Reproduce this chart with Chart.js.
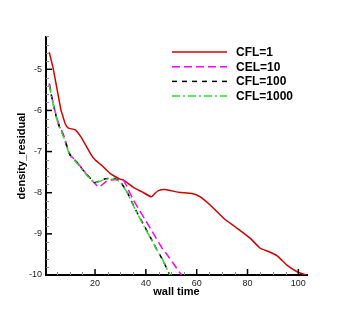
<!DOCTYPE html>
<html lang="en">
<head>
  <title>density residual</title>
  <meta charset="utf-8">
  <script src="https://cdn.jsdelivr.net/npm/chart.js@4.4.1/dist/chart.umd.min.js"></script>
</head>
<style>
  body {
    margin: 0;
    background-color: #ffffff;
  }
  #box {
    width: 349px;
    height: 310px;
  }
</style>
<body>

  <div id="box">
    <canvas id="myChart" width="349" height="310"></canvas>
  </div>

  <script>
    const seriesNames = ["CFL=1", "CEL=10", "CFL=100", "CFL=1000"];
    const seriesColors = ["#d40000", "#ff00ff", "#000000", "#33d633"];
    const seriesDash = [[], [8, 4], [5, 5], [8, 3, 2, 3]];

    // CFL=1
    const cfl1_x = [2, 3.6, 6.6, 7.3, 8.3, 9.5, 12.2, 14.5, 18.3, 20, 22.5, 25.9, 29.8, 31.1, 35.1, 38.5, 42.2, 43.5, 44.9, 47.6, 52.8, 58.1, 61.4, 65.3, 70.6, 75.8, 81.1, 85, 88.3, 91.8, 95.5, 99.5, 103.2];
    const cfl1_y = [-4.59, -5.0, -6.0, -6.13, -6.33, -6.43, -6.47, -6.65, -7.06, -7.2, -7.33, -7.53, -7.67, -7.69, -7.87, -7.98, -8.1, -8.02, -7.95, -7.92, -7.99, -8.02, -8.1, -8.3, -8.62, -8.86, -9.11, -9.35, -9.43, -9.54, -9.76, -9.92, -10.0];

    // CEL=10
    const cfl10_x = [2, 2.9, 4.2, 5.6, 7.5, 9.5, 10.4, 12.1, 14.5, 17.4, 19.5, 21.3, 22.5, 24.3, 25.9, 31.1, 33, 35.1, 41.3, 46.7, 47.8, 51.5, 54];
    const cfl10_y = [-5.34, -5.64, -6.0, -6.3, -6.58, -6.97, -7.1, -7.2, -7.38, -7.61, -7.75, -7.86, -7.82, -7.73, -7.69, -7.69, -7.92, -8.18, -8.82, -9.38, -9.46, -9.78, -10.0];

    // CFL=100
    const cfl100_x = [2, 2.9, 4.2, 5.6, 7.5, 9.5, 10.4, 12.1, 14.5, 16.7, 18.5, 20, 22, 24, 27.9, 30, 32.5, 36, 39.4, 42, 44.3, 46.5, 49.4];
    const cfl100_y = [-5.37, -5.66, -6.02, -6.34, -6.61, -6.99, -7.11, -7.21, -7.39, -7.56, -7.67, -7.75, -7.71, -7.66, -7.66, -7.74, -7.97, -8.42, -8.81, -9.11, -9.38, -9.62, -10.0];

    // CFL=1000
    const cfl1000_x = [2, 2.9, 4.2, 5.6, 7.5, 9.5, 10.4, 12.1, 14.5, 16.7, 18.5, 20, 22, 24, 27.9, 30, 32.5, 36, 39.4, 42, 44.3, 46.5, 49.5];
    const cfl1000_y = [-5.38, -5.67, -6.03, -6.35, -6.62, -7.0, -7.12, -7.22, -7.4, -7.57, -7.68, -7.76, -7.72, -7.67, -7.67, -7.75, -7.98, -8.43, -8.83, -9.12, -9.39, -9.62, -10.0];

    const xTicks = [20, 40, 60, 80, 100];
    const yTicks = [-10, -9, -8, -7, -6, -5];

    const font = '"Liberation Sans", Arial, Helvetica, sans-serif';

    function toPoints(xs, ys) {
      var pts = [];
      for (var i = 0; i < xs.length; i++) {
        pts.push({x: xs[i], y: ys[i]});
      }
      return pts;
    }

    const allX = [cfl1_x, cfl10_x, cfl100_x, cfl1000_x];
    const allY = [cfl1_y, cfl10_y, cfl100_y, cfl1000_y];
    const datasets = [];
    for (var i = 0; i < seriesNames.length; i++) {
      datasets.push({
        label: seriesNames[i],
        data: toPoints(allX[i], allY[i]),
        borderColor: seriesColors[i],
        borderDash: seriesDash[i],
        borderWidth: 1.5,
        pointRadius: 0,
        fill: false,
        tension: 0.15
      });
    }
    // draw red on top like the original
    datasets.reverse();

    // inward ticks, major + minor, tecplot style
    const innerTicks = {
      id: 'innerTicks',
      afterDatasetsDraw(chart) {
        const ctx = chart.ctx;
        const xs = chart.scales.x;
        const ys = chart.scales.y;
        const left = xs.left;
        const bottom = ys.bottom;
        ctx.save();
        ctx.lineWidth = 1;
        ctx.strokeStyle = '#888888';
        for (var v = 5; v <= xs.max; v += 5) {
          if (v % 20 === 0) continue;
          var px = Math.round(xs.getPixelForValue(v)) + 0.5;
          ctx.beginPath(); ctx.moveTo(px, bottom); ctx.lineTo(px, bottom - 3); ctx.stroke();
        }
        for (var k = -50; k <= -21; k++) {
          var yv = k / 5;
          if (k % 5 === 0) continue;
          var py = Math.round(ys.getPixelForValue(yv)) + 0.5;
          ctx.beginPath(); ctx.moveTo(left, py); ctx.lineTo(left + 3, py); ctx.stroke();
        }
        ctx.strokeStyle = '#000000';
        ctx.lineWidth = 1.5;
        xTicks.forEach(function(v) {
          var px = xs.getPixelForValue(v);
          ctx.beginPath(); ctx.moveTo(px, bottom); ctx.lineTo(px, bottom - 6); ctx.stroke();
        });
        yTicks.forEach(function(v) {
          var py = ys.getPixelForValue(v);
          ctx.beginPath(); ctx.moveTo(left, py); ctx.lineTo(left + 6, py); ctx.stroke();
        });
        ctx.restore();
      }
    };

    // legend in the upper right, lines + bold text
    const lineLegend = {
      id: 'lineLegend',
      afterDraw(chart) {
        const ctx = chart.ctx;
        ctx.save();
        ctx.font = 'bold 12px ' + font;
        ctx.textBaseline = 'middle';
        ctx.textAlign = 'left';
        for (var i = 0; i < seriesNames.length; i++) {
          var y = 52 + i * 14.7;
          ctx.strokeStyle = seriesColors[i];
          ctx.lineWidth = 1.5;
          ctx.setLineDash(seriesDash[i]);
          ctx.beginPath(); ctx.moveTo(172, y); ctx.lineTo(227, y); ctx.stroke();
          ctx.setLineDash([]);
          ctx.fillStyle = '#000000';
          ctx.fillText(seriesNames[i], 236, y + 0.5);
        }
        ctx.restore();
      }
    };

    new Chart("myChart", {
      type: "line",
      data: { datasets: datasets },
      plugins: [innerTicks, lineLegend],
      options: {
        responsive: false,
        animation: false,
        layout: { padding: { top: 37, right: 42, left: 0, bottom: 0 } },
        plugins: {
          legend: { display: false },
          tooltip: { enabled: false }
        },
        scales: {
          x: {
            type: 'linear',
            min: 0.7,
            max: 103.4,
            afterFit: function(scale) { scale.height = 35; },
            grid: { display: false, drawTicks: false },
            border: { display: true, color: '#000000', width: 2 },
            ticks: {
              stepSize: 20,
              includeBounds: false,
              padding: 3,
              color: '#222222',
              font: { family: font, size: 9 },
              maxRotation: 0
            },
            title: {
              display: true,
              text: 'wall time',
              color: '#000000',
              font: { family: font, size: 11, weight: 'bold' },
              padding: { top: 0, bottom: 11 }
            }
          },
          y: {
            type: 'linear',
            min: -10,
            max: -4.215,
            afterFit: function(scale) { scale.width = 46; },
            grid: { display: false, drawTicks: false },
            border: { display: true, color: '#000000', width: 2 },
            ticks: {
              stepSize: 1,
              includeBounds: false,
              padding: 4,
              color: '#222222',
              font: { family: font, size: 9 }
            },
            title: {
              display: true,
              text: 'density_residual',
              color: '#000000',
              font: { family: font, size: 11, weight: 'bold' },
              padding: { top: 15, bottom: 0 }
            }
          }
        }
      }
    });
  </script>

</body>
</html>
